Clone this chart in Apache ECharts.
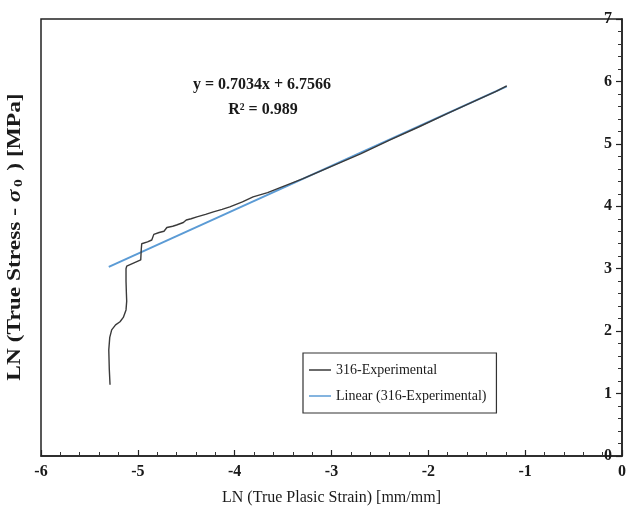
<!DOCTYPE html>
<html>
<head>
<meta charset="utf-8">
<script src="https://cdn.jsdelivr.net/npm/echarts@6/dist/echarts.min.js"></script>
<style>
  html, body { margin: 0; padding: 0; background: #fff; }
  #chart { width: 629px; height: 519px; }
</style>
</head>
<body>
<div id="chart"></div>
<script>
// LN(true plastic strain) vs LN(true stress - sigma0) for 316 stainless steel
const strainLn = [-5.287, -5.295, -5.30, -5.29, -5.27, -5.23, -5.184, -5.15, -5.122, -5.115,
  -5.118, -5.122, -5.122, -5.115, -4.97, -4.965, -4.96, -4.90, -4.856, -4.835,
  -4.78, -4.73, -4.70, -4.64, -4.60, -4.53, -4.50, -4.45, -4.39, -4.30,
  -4.22, -4.13, -4.05, -3.92, -3.81, -3.66, -3.53, -3.30, -3.00, -2.70,
  -2.40, -2.10, -1.80, -1.50, -1.30, -1.19];
const stressLn = [1.14, 1.40, 1.70, 1.90, 2.02, 2.10, 2.15, 2.22, 2.34, 2.48,
  2.60, 2.80, 3.00, 3.04, 3.14, 3.30, 3.40, 3.43, 3.46, 3.55,
  3.58, 3.60, 3.66, 3.68, 3.70, 3.74, 3.78, 3.80, 3.83, 3.87,
  3.91, 3.95, 3.99, 4.07, 4.15, 4.22, 4.30, 4.44, 4.64, 4.84,
  5.06, 5.27, 5.49, 5.70, 5.84, 5.93];

// Linear trendline: y = slope * x + intercept
const slope = 0.7034;
const intercept = 6.7566;
const rSquared = 0.989;
const trendRange = [-5.30, -1.19];

const xTicks = { min: -6, max: 0, step: 1 };
const yTicks = { min: 0, max: 7, step: 1 };

const seriesNames = ['316-Experimental', 'Linear (316-Experimental)'];

const experimental = strainLn.map((x, i) => [x, stressLn[i]]);
const trend = trendRange.map(x => [x, slope * x + intercept]);

const serif = '"Liberation Serif", "DejaVu Serif", serif';
const ink = '#1a1a1a';

const chart = echarts.init(document.getElementById('chart'), null, { renderer: 'canvas' });
chart.setOption({
  backgroundColor: '#ffffff',
  animation: false,
  grid: {
    left: 41, right: 7, top: 19, bottom: 63,
    show: true, borderColor: '#222', borderWidth: 1.5, backgroundColor: 'transparent'
  },
  legend: {
    data: seriesNames,
    orient: 'vertical',
    left: 303, top: 353,
    icon: 'rect',
    itemWidth: 22, itemHeight: 1.5, itemGap: 12,
    padding: [10, 10, 10, 6],
    borderColor: '#333', borderWidth: 1.2,
    textStyle: { fontFamily: serif, fontSize: 14, color: ink }
  },
  xAxis: {
    type: 'value',
    min: xTicks.min, max: xTicks.max, interval: xTicks.step,
    axisLine: { onZero: false, lineStyle: { color: '#222', width: 1.5 } },
    axisTick: { inside: true, length: 6, lineStyle: { color: '#222', width: 1.2 } },
    minorTick: { show: true, splitNumber: 5, length: 4, lineStyle: { color: '#333' } },
    splitLine: { show: false },
    axisLabel: { margin: 8, fontFamily: serif, fontWeight: 'bold', fontSize: 16, color: ink },
    name: 'LN (True Plasic Strain) [mm/mm]',
    nameLocation: 'middle', nameGap: 34,
    nameTextStyle: { fontFamily: serif, fontSize: 16, color: ink }
  },
  yAxis: {
    type: 'value', position: 'right',
    min: yTicks.min, max: yTicks.max, interval: yTicks.step,
    axisLine: { onZero: false, lineStyle: { color: '#222', width: 1.5 } },
    axisTick: { inside: true, length: 6, lineStyle: { color: '#222', width: 1.2 } },
    minorTick: { show: true, splitNumber: 5, length: 4, lineStyle: { color: '#333' } },
    splitLine: { show: false },
    axisLabel: { inside: true, margin: 10, fontFamily: serif, fontWeight: 'bold', fontSize: 16, color: ink }
  },
  graphic: [
    {
      type: 'text', rotation: Math.PI / 2,
      x: 15, y: 237, scaleX: 1.3,
      style: {
        text: '{a|LN (True Stress - }{s|σ}{b|0}{a| ) [MPa]}',
        align: 'center', verticalAlign: 'middle',
        rich: {
          a: { fontFamily: serif, fontWeight: 'bold', fontSize: 18, fill: ink },
          s: { fontFamily: serif, fontWeight: 'bold', fontStyle: 'italic', fontSize: 18, fill: ink },
          b: { fontFamily: serif, fontWeight: 'bold', fontSize: 12, fill: ink, padding: [7, 2, 0, 2] }
        }
      }
    },
    {
      type: 'text', x: 262, y: 85,
      style: {
        text: 'y = ' + slope.toFixed(4) + 'x + ' + intercept.toFixed(4),
        align: 'center', verticalAlign: 'middle',
        fontFamily: serif, fontWeight: 'bold', fontSize: 16, fill: ink
      }
    },
    {
      type: 'text', x: 263, y: 110,
      style: {
        text: 'R² = ' + rSquared,
        align: 'center', verticalAlign: 'middle',
        fontFamily: serif, fontWeight: 'bold', fontSize: 16, fill: ink
      }
    }
  ],
  series: [
    {
      name: seriesNames[1], type: 'line', data: trend,
      symbol: 'none', showSymbol: false,
      lineStyle: { color: '#5b9bd5', width: 2 }, color: '#5b9bd5', z: 2
    },
    {
      name: seriesNames[0], type: 'line', data: experimental,
      symbol: 'none', showSymbol: false,
      lineStyle: { color: '#3a3a3a', width: 1.4 }, color: '#3a3a3a', z: 3
    }
  ]
});
</script>
</body>
</html>
